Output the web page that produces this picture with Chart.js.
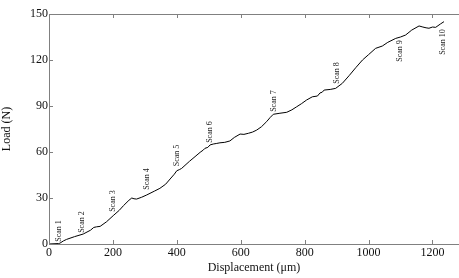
<!DOCTYPE html>
<html>
<head>
<meta charset="utf-8">
<script src="https://cdn.jsdelivr.net/npm/chart.js@4"></script>
<style>
  html, body { margin: 0; padding: 0; background: #fff; }
  #wrap { width: 459px; height: 278px; }
</style>
</head>
<body>
<div id="wrap"><canvas id="chart"></canvas></div>
<script>
// displacement (um) and load (N)
const displacement = [0, 30, 34, 45, 55, 80, 107, 130, 140, 149, 160, 180, 201, 220, 233, 250, 259, 266, 274, 290,
  306, 330, 347, 365, 379, 392, 400, 408, 415, 440, 460, 473, 483, 488, 497, 504, 514, 525, 535, 550,
  566, 580, 598, 610, 624, 637, 650, 665, 681, 692, 702, 720, 744, 760, 775, 790, 806, 824, 840, 848,
  855, 861, 880, 897, 918, 940, 960, 981, 1000, 1022, 1043, 1060, 1085, 1100, 1116, 1135, 1158, 1170, 1180, 1189,
  1200, 1210, 1225, 1236];
const load = [0, 0.3, 0.5, 2, 3, 4.8, 6.5, 9, 10.8, 11.2, 11.5, 14.5, 18.5, 22, 25, 28.5, 30, 29.5, 29.3, 30.5,
  32, 34.5, 36.3, 39, 42.4, 45.5, 47.8, 48.5, 49.3, 54, 57.5, 59.8, 61.3, 62.4, 63, 64.6, 65.2, 65.6, 66, 66.3,
  67.2, 69.5, 71.7, 71.5, 72.2, 73, 74.3, 76.5, 79.8, 82.5, 84.6, 85.2, 85.9, 87.5, 89.5, 91.5, 93.9, 96, 96.5, 98.5,
  99, 100.4, 100.8, 101.5, 104.8, 110, 115, 120, 123.5, 127.6, 129.1, 131.5, 134.1, 135, 136.3, 139.5, 142.2, 141.5, 141, 140.7,
  141.5, 141.3, 143.5, 145];

// scan labels (where each label sits, in data units)
const scanNames = ['Scan 1', 'Scan 2', 'Scan 3', 'Scan 4', 'Scan 5', 'Scan 6', 'Scan 7', 'Scan 8', 'Scan 9', 'Scan 10'];
const scanX = [31, 103, 200, 307, 401, 504, 704, 901, 1099, 1233];
const scanY = [8.5, 14.3, 28, 42.4, 57.7, 73, 93.2, 111.5, 125.9, 131.7];

const xTicks = [0, 200, 400, 600, 800, 1000, 1200];
const yTicks = [0, 30, 60, 90, 120, 150];

const serif = "'Liberation Serif', 'Times New Roman', serif";
const axisColor = '#808080';

// MATLAB-style box with inward ticks + rotated scan labels
const decor = {
  id: 'decor',
  afterDraw(chart) {
    const { ctx, chartArea: a, scales: { x, y } } = chart;
    ctx.save();
    ctx.strokeStyle = axisColor;
    ctx.lineWidth = 1;
    ctx.beginPath();
    ctx.moveTo(a.left + 0.5, a.bottom + 0.5);
    ctx.lineTo(a.left + 0.5, a.top + 0.5);
    ctx.lineTo(a.right, a.top + 0.5);
    ctx.moveTo(a.left, a.bottom + 0.5);
    ctx.lineTo(a.right, a.bottom + 0.5);
    xTicks.forEach(v => {
      const px = Math.round(x.getPixelForValue(v)) + 0.5;
      ctx.moveTo(px, a.bottom); ctx.lineTo(px, a.bottom - 4);
      ctx.moveTo(px, a.top); ctx.lineTo(px, a.top + 4);
    });
    yTicks.forEach(v => {
      const py = Math.round(y.getPixelForValue(v)) + 0.5;
      ctx.moveTo(a.left, py); ctx.lineTo(a.left + 4, py);
    });
    ctx.stroke();

    ctx.fillStyle = '#222';
    ctx.font = '8px ' + serif;
    ctx.textAlign = 'center';
    ctx.textBaseline = 'middle';
    scanNames.forEach((s, i) => {
      ctx.save();
      ctx.translate(x.getPixelForValue(scanX[i]), y.getPixelForValue(scanY[i]));
      ctx.rotate(-Math.PI / 2);
      ctx.fillText(s, 0, 0);
      ctx.restore();
    });
    ctx.restore();
  }
};

new Chart(document.getElementById('chart'), {
  type: 'line',
  data: {
    datasets: [{
      data: displacement.map((d, i) => ({ x: d, y: load[i] })),
      borderColor: '#000',
      borderWidth: 1,
      pointRadius: 0,
      tension: 0,
      fill: false
    }]
  },
  options: {
    responsive: true,
    maintainAspectRatio: false,
    animation: false,
    layout: { padding: { top: 14, right: 0, left: 0, bottom: 0 } },
    plugins: { legend: { display: false }, tooltip: { enabled: false } },
    scales: {
      x: {
        type: 'linear',
        min: 0,
        max: 1283,
        afterBuildTicks: s => { s.ticks = xTicks.map(v => ({ value: v })); },
        afterFit: s => { s.height = 34; },
        grid: { display: false, drawTicks: false },
        border: { display: false },
        ticks: { color: '#111', padding: 2, maxRotation: 0, callback: v => String(v), font: { family: serif, size: 12 } },
        title: { display: true, text: 'Displacement (μm)', color: '#111', padding: { top: 0, bottom: 3 }, font: { family: serif, size: 12 } }
      },
      y: {
        min: 0,
        max: 150,
        afterBuildTicks: s => { s.ticks = yTicks.map(v => ({ value: v })); },
        afterFit: s => { s.width = 49; },
        grid: { display: false, drawTicks: false },
        border: { display: false },
        ticks: { color: '#111', padding: 1, callback: v => String(v), font: { family: serif, size: 12 } },
        title: { display: true, text: 'Load (N)', color: '#111', padding: 0, font: { family: serif, size: 12 } }
      }
    }
  },
  plugins: [decor]
});
</script>
</body>
</html>
